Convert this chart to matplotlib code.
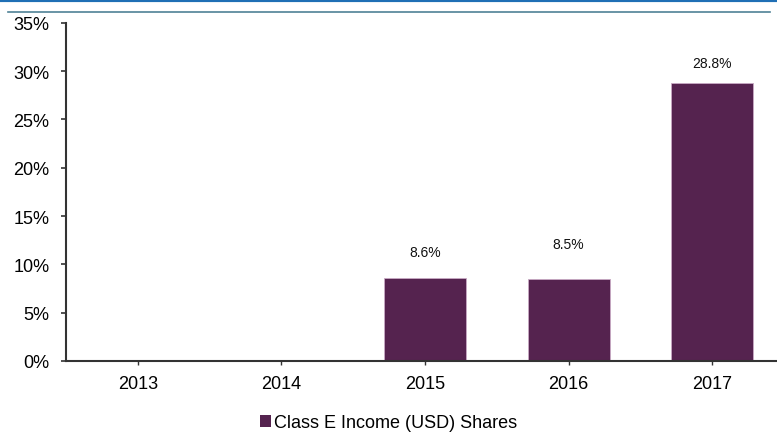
import matplotlib
matplotlib.use('Agg')
import matplotlib.pyplot as plt
from matplotlib.lines import Line2D
from matplotlib.patches import Patch

plt.rcParams['font.family'] = ['Liberation Sans', 'DejaVu Sans']

years = ['2013', '2014', '2015', '2016', '2017']
shares = [0, 0, 8.6, 8.5, 28.8]
labels = ['', '', '8.6%', '8.5%', '28.8%']
# labels sit at uneven heights above the bars in the original
label_offsets = [0, 0, 2.7, 3.6, 2.0]

bar_color = '#55234f'

fig = plt.figure(figsize=(7.77, 4.35), dpi=100)
ax = fig.add_axes([0.085, 0.168, 0.924, 0.777])

x = range(len(years))
ax.bar(x, shares, width=0.57, color=bar_color, edgecolor='#c9aac4', linewidth=0.6)
for i, v in enumerate(shares):
    if labels[i]:
        ax.text(i, v + label_offsets[i], labels[i], ha='center', va='center', fontsize=10, color='#111111')

ax.set_xlim(-0.5, len(years) - 0.5)
ax.set_ylim(0, 35)
ax.set_yticks(range(0, 36, 5))
ax.set_yticklabels([str(t) + '%' for t in range(0, 36, 5)], fontsize=13)
ax.set_xticks(list(x))
ax.set_xticklabels(years, fontsize=13)
ax.tick_params(axis='y', direction='out', length=3.5, width=1.2, color='#333333', pad=8.5)
ax.tick_params(axis='x', direction='out', length=3, width=1.0, color='#333333', pad=7)

for s in ['top', 'right']:
    ax.spines[s].set_visible(False)
for s in ['left', 'bottom']:
    ax.spines[s].set_color('#333333')
    ax.spines[s].set_linewidth(1.5)

# header lines
fig.add_artist(Line2D([0, 1], [0.998, 0.998], color='#1f6fb5', linewidth=3, transform=fig.transFigure))
fig.add_artist(Line2D([8 / 777, 770 / 777], [1 - 12.5 / 435, 1 - 12.5 / 435], color='#4f8296', linewidth=1.2, transform=fig.transFigure))

handle = Patch(facecolor=bar_color, edgecolor='none')
fig.legend([handle], ['Class E Income (USD) Shares'], loc='center', bbox_to_anchor=(0.5, 1 - 424 / 435),
           frameon=False, fontsize=13, handlelength=0.6, handleheight=0.6, handletextpad=0.2)

fig.savefig('out.png', dpi=100)
